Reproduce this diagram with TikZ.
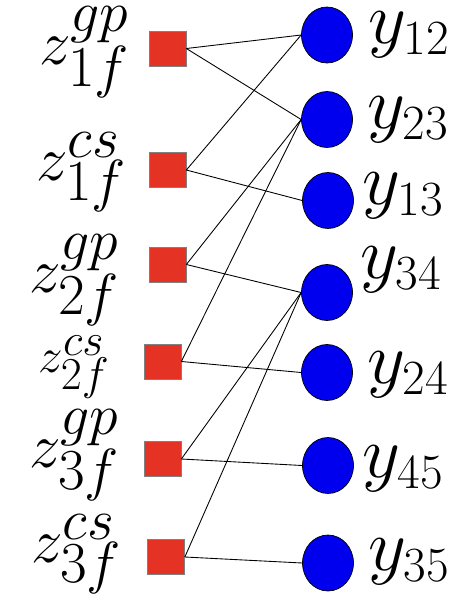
\documentclass[tikz,border=0pt]{standalone}
\usepackage{fix-cm}
\usetikzlibrary{shapes.geometric}
\DeclareMathSizes{36}{36}{33}{26}
\DeclareMathSizes{28}{28}{26}{20}
\DeclareMathSizes{42}{42}{28}{22}
\definecolor{facred}{RGB}{228,50,36}
\definecolor{varblue}{RGB}{0,0,238}
\begin{document}
\begin{tikzpicture}[x=0.02cm, y=-0.02cm,
		fac/.style = {draw=gray, fill=facred, minimum width=0.74cm, minimum height=0.70cm, inner sep=0pt},
		var/.style = {ellipse, draw=black, fill=varblue, minimum width=1.02cm, minimum height=1.12cm, inner sep=0pt},
		zlab/.style = {anchor=east, inner sep=0pt, font=\fontsize{36}{40}\selectfont},
		ylab/.style = {anchor=west, inner sep=0pt, font=\fontsize{42}{46}\selectfont},
		edge/.style = {black, line width=0.5pt}]
		\useasboundingbox (0,0) rectangle (462,603);
		%
		\node[fac] (f1g) at (167.5,48.5) {};
		\node[fac] (f1c) at (167.5,170) {};
		\node[fac] (f2g) at (167.5,264.5) {};
		\node[fac] (f2c) at (162.5,361.5) {};
		\node[fac] (f3g) at (162.5,459) {};
		\node[fac] (f3c) at (166,557) {};
		%
		\node[zlab] (l1g) at (130,52) {$z^{gp}_{1f}$};
		\node[zlab] (l1c) at (127,172) {$z^{cs}_{1f}$};
		\node[zlab] (l2g) at (120,280) {$z^{gp}_{2f}$};
		\node[zlab, font=\fontsize{28}{32}\selectfont] (l2c) at (110,367) {$z^{cs}_{2f}$};
		\node[zlab] (l3g) at (120,455) {$z^{gp}_{3f}$};
		\node[zlab] (l3c) at (122,554) {$z^{cs}_{3f}$};
		%
		\node[var] (y12) at (327,35) {};
		\node[var] (y23) at (327,119.5) {};
		\node[var] (y13) at (328,200.5) {};
		\node[var] (y34) at (327,292.5) {};
		\node[var] (y24) at (327,372.5) {};
		\node[var] (y45) at (328,465.5) {};
		\node[var] (y35) at (328,563) {};
		%
		\node[ylab] (m12) at (368,35) {$y_{12}$};
		\node[ylab] (m23) at (367,120) {$y_{23}$};
		\node[ylab] (m13) at (362,196) {$y_{13}$};
		\node[ylab] (m34) at (360,270) {$y_{34}$};
		\node[ylab] (m24) at (367,375) {$y_{24}$};
		\node[ylab] (m45) at (362,469) {$y_{45}$};
		\node[ylab] (m35) at (368,562) {$y_{35}$};
		%
		\draw[edge] (f1g.east) -- (y12.west);
		\draw[edge] (f1g.east) -- (y23.west);
		\draw[edge] (f1c.east) -- (y12.west);
		\draw[edge] (f1c.east) -- (y13.west);
		\draw[edge] (f2g.east) -- (y23.west);
		\draw[edge] (f2g.east) -- (y34.west);
		\draw[edge] (f2c.east) -- (y23.west);
		\draw[edge] (f2c.east) -- (y24.west);
		\draw[edge] (f3g.east) -- (y34.west);
		\draw[edge] (f3g.east) -- (y45.west);
		\draw[edge] (f3c.east) -- (y34.west);
		\draw[edge] (f3c.east) -- (y35.west);
		%
	\end{tikzpicture}
\end{document}
